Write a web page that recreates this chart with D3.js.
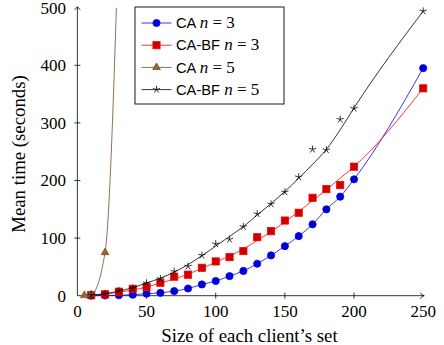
<!DOCTYPE html>
<html>
<head>
<meta charset="utf-8">
<script src="https://cdn.jsdelivr.net/npm/d3@7"></script>
<style>
  html, body { margin: 0; padding: 0; background: #fff; }
  svg { display: block; }
</style>
</head>
<body>
<div class="chart"></div>
<script>
// x values shared by the n = 3 series and CA-BF n = 5
const sizes = [10, 20, 30, 40, 50, 60, 70, 80, 90, 100, 110, 120, 130, 140, 150, 160, 170, 180, 190, 200, 250];

// measured points
const caN3   = [0.1, 0.4, 0.8, 1.8, 3.5, 5, 8, 12.5, 19.5, 25.5, 34, 43, 55.5, 70, 86, 103.5, 124, 150, 172, 202, 395];
const caBfN3 = [1, 2.5, 7, 12, 15, 22.5, 33, 36.5, 48.5, 59.5, 67, 77.5, 101.5, 112, 130.5, 144, 170, 185, 192, 224, 360];
const caBfN5 = [0.7, 3, 8.7, 12.8, 22, 29.5, 42, 51, 70, 89.7, 97.7, 119.7, 142, 159, 180, 206, 254, 253, 306, 325, 494];
const caN5Sizes = [5, 10, 20, 30];
const caN5      = [0.5, 2, 75, 640];

// trend lines (the marks do not sit exactly on them)
const caBfN3Trend = [1, 3, 6, 10, 15, 22, 29, 37.5, 47.5, 58, 69, 81, 96, 111, 128, 146, 165, 184, 204, 224, 360];
const caBfN5Trend = [1, 3.5, 8, 14, 22, 30.5, 41, 54, 69.5, 86, 103, 120, 140, 160, 181, 204, 228, 254, 288, 326, 494];

const xTicks = [0, 50, 100, 150, 200, 250];
const yTicks = [0, 100, 200, 300, 400, 500];

const SERIF = '"Liberation Serif", "Times New Roman", serif';
const SANS = '"Liberation Sans", Arial, sans-serif';

const W = 444, H = 345;
const x0 = 77.4, x1 = 423.2, yBottom = 295.7, yTop = 7.7;

const svg = d3.select('.chart').append('svg')
    .attr('width', W)
    .attr('height', H);

const x = d3.scaleLinear().domain([0, 250]).range([x0, x1]);
const y = d3.scaleLinear().domain([0, 500]).range([yBottom, yTop]);

svg.append('clipPath').attr('id', 'plotclip')
  .append('rect')
    .attr('x', x0).attr('y', yTop)
    .attr('width', x1 - x0 + 2).attr('height', yBottom - yTop + 1);

// axes (pgfplots "axis lines = left" look)
const axisG = svg.append('g').attr('stroke', '#000').attr('stroke-width', 0.8).attr('fill', 'none');
axisG.append('line').attr('x1', x0).attr('y1', yBottom).attr('x2', x1 + 1).attr('y2', yBottom);
axisG.append('line').attr('x1', x0).attr('y1', yBottom).attr('x2', x0).attr('y2', yTop - 1);
// arrow heads
axisG.append('path').attr('d', `M${x1 - 3},${yBottom - 3} Q${x1 - 1},${yBottom} ${x1 + 1},${yBottom} Q${x1 - 1},${yBottom} ${x1 - 3},${yBottom + 3}`);
axisG.append('path').attr('d', `M${x0 - 3},${yTop + 2} Q${x0},${yTop} ${x0},${yTop - 1} Q${x0},${yTop} ${x0 + 3},${yTop + 2}`);

// tick marks
xTicks.filter(d => d > 0 && d < 250).forEach(d => {
  axisG.append('line').attr('x1', x(d)).attr('x2', x(d)).attr('y1', yBottom - 3).attr('y2', yBottom + 3);
});
yTicks.filter(d => d > 0 && d < 500).forEach(d => {
  axisG.append('line').attr('y1', y(d)).attr('y2', y(d)).attr('x1', x0 - 3).attr('x2', x0 + 3);
});

// tick labels
svg.append('g').selectAll('text')
  .data(xTicks)
  .enter().append('text')
    .style('font-family', SERIF).style('font-size', '17px')
    .attr('x', d => x(d))
    .attr('y', 317)
    .attr('text-anchor', 'middle')
    .text(d => d);
svg.append('g').selectAll('text')
  .data(yTicks)
  .enter().append('text')
    .style('font-family', SERIF).style('font-size', '17px')
    .attr('x', 66)
    .attr('y', d => y(d) + 5.8)
    .attr('text-anchor', 'end')
    .text(d => d);

// axis titles
svg.append('text')
    .style('font-family', SERIF).style('font-size', '18.8px')
    .attr('x', 249.5).attr('y', 341.5)
    .attr('text-anchor', 'middle')
    .text('Size of each client\u2019s set');
svg.append('text')
    .style('font-family', SERIF).style('font-size', '18.8px')
    .attr('transform', 'translate(25,154) rotate(-90)')
    .attr('text-anchor', 'middle')
    .text('Mean time (seconds)');

// marker shapes
function drawMark(g, kind, cx, cy) {
  if (kind === 'circle') {
    g.append('circle').attr('cx', cx).attr('cy', cy).attr('r', 3.6)
      .attr('fill', '#0000cc').attr('stroke', '#0000ff').attr('stroke-width', 0.8);
  } else if (kind === 'square') {
    g.append('rect').attr('x', cx - 3.6).attr('y', cy - 3.6).attr('width', 7.2).attr('height', 7.2)
      .attr('fill', '#cc0000').attr('stroke', '#ff0000').attr('stroke-width', 0.8);
  } else if (kind === 'triangle') {
    const r = 4.4;
    const pts = [[cx, cy - r], [cx + r * 0.866, cy + r * 0.5], [cx - r * 0.866, cy + r * 0.5]];
    g.append('path').attr('d', 'M' + pts.join('L') + 'Z')
      .attr('fill', '#996633').attr('stroke', '#734d26').attr('stroke-width', 0.8);
  } else {
    let d = '';
    for (let k = 0; k < 5; k++) {
      const a = -Math.PI / 2 + k * 2 * Math.PI / 5;
      d += `M${cx},${cy}L${cx + 3.8 * Math.cos(a)},${cy + 3.8 * Math.sin(a)}`;
    }
    g.append('path').attr('d', d).attr('stroke', '#000').attr('stroke-width', 0.8).attr('fill', 'none');
  }
}

const series = [
  { xs: sizes, line: caN3, marks: caN3, color: '#0000ff', mark: 'circle', name: 'CA', n: 3 },
  { xs: sizes, line: caBfN3Trend, marks: caBfN3, color: '#ff0000', mark: 'square', name: 'CA-BF', n: 3 },
  { xs: caN5Sizes, line: caN5, marks: caN5, color: '#734d26', mark: 'triangle', name: 'CA', n: 5 },
  { xs: sizes, line: caBfN5Trend, marks: caBfN5, color: '#000000', mark: 'star', name: 'CA-BF', n: 5 }
];

const lineGen = d3.line()
    .x(d => x(d[0]))
    .y(d => y(d[1]))
    .curve(d3.curveMonotoneX);

series.forEach(s => {
  const g = svg.append('g');
  g.append('path')
    .datum(s.xs.map((v, i) => [v, s.line[i]]))
    .attr('clip-path', 'url(#plotclip)')
    .attr('d', lineGen)
    .attr('fill', 'none')
    .attr('stroke', s.color)
    .attr('stroke-width', 0.8);
  s.xs.forEach((v, i) => {
    if (s.marks[i] <= 500) drawMark(g, s.mark, x(v), y(s.marks[i]));
  });
});

// legend
const legend = svg.append('g');
legend.append('rect')
    .attr('x', 135).attr('y', 7).attr('width', 149).attr('height', 97)
    .attr('fill', '#fff').attr('stroke', '#000').attr('stroke-width', 0.9);
series.forEach((s, i) => {
  const cy = 23 + i * 22.2;
  legend.append('line')
    .attr('x1', 141.5).attr('x2', 171.5).attr('y1', cy).attr('y2', cy)
    .attr('stroke', s.color).attr('stroke-width', 0.8);
  drawMark(legend, s.mark, 156.5, cy);
  const t = legend.append('text')
    .attr('x', 176).attr('y', cy + 5.2);
  t.append('tspan').style('font-family', SANS).style('font-size', '14.7px').text(s.name + ' ');
  t.append('tspan').style('font-family', SERIF).style('font-style', 'italic').style('font-size', '17px').text('n');
  t.append('tspan').style('font-family', SERIF).style('font-size', '17px').text(' = ' + s.n);
});
</script>
</body>
</html>
